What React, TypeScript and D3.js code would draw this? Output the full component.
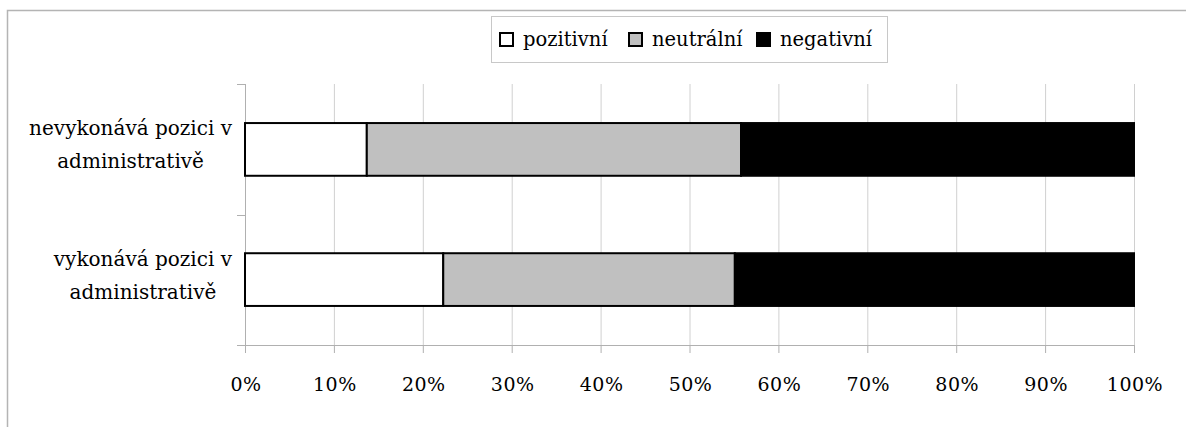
import React, { useEffect, useRef } from "react";
import * as d3 from "d3";

const categories = [
  ["nevykonává pozici v", "administrativě"],
  ["vykonává pozici v", "administrativě"],
];
const seriesNames = ["pozitivní", "neutrální", "negativní"];
const seriesColors = ["#ffffff", "#c0c0c0", "#000000"];
const pozitivni = [13.7, 22.3];
const neutralni = [42.1, 32.8];
const negativni = [44.2, 44.9];
const xTicks = [0, 10, 20, 30, 40, 50, 60, 70, 80, 90, 100];

const FONT = "'DejaVu Serif', 'Liberation Serif', serif";

export default function App() {
  const ref = useRef<SVGSVGElement>(null);
  useEffect(() => {
    const svg = d3.select(ref.current);
    svg.selectAll("*").remove();
    const W = 1186, H = 427;
    const left = 245, right = 1134, top = 84, bottom = 345;

    svg.append("rect").attr("x", 7.5).attr("y", 10.5).attr("width", W + 20).attr("height", H + 20)
      .attr("fill", "#fff").attr("stroke", "#b4b4b4").attr("stroke-width", 1.5);

    const x = d3.scaleLinear().domain([0, 100]).range([left, right]);
    const y = d3.scaleBand().domain(categories.map((_, i) => String(i))).range([top, bottom]).paddingInner(0.595).paddingOuter(0.3);
    const yBand = d3.scaleBand().domain(categories.map((_, i) => String(i))).range([top, bottom]);

    svg.append("g").selectAll("line").data(xTicks.slice(1)).join("line")
      .attr("x1", d => x(d) + 0.5).attr("x2", d => x(d) + 0.5)
      .attr("y1", top).attr("y2", bottom)
      .attr("stroke", "#d0d0d0").attr("stroke-width", 1);

    svg.append("line").attr("x1", left + 0.5).attr("x2", left + 0.5).attr("y1", top).attr("y2", bottom)
      .attr("stroke", "#b0b0b0");
    const yt = [top, ...categories.map((_, i) => (yBand(String(i)) as number) + yBand.bandwidth())];
    svg.append("g").selectAll("line").data(yt).join("line")
      .attr("x1", left - 8).attr("x2", left).attr("y1", d => Math.round(d) + 0.5).attr("y2", d => Math.round(d) + 0.5)
      .attr("stroke", "#b0b0b0");

    svg.append("line").attr("x1", left - 8).attr("x2", right).attr("y1", bottom + 0.5).attr("y2", bottom + 0.5)
      .attr("stroke", "#b0b0b0");
    svg.append("g").selectAll("line").data(xTicks).join("line")
      .attr("x1", d => x(d) + 0.5).attr("x2", d => x(d) + 0.5).attr("y1", bottom).attr("y2", bottom + 8)
      .attr("stroke", "#b0b0b0");
    svg.append("g").selectAll("text").data(xTicks).join("text")
      .attr("x", d => x(d) + 1).attr("y", 391)
      .attr("text-anchor", "middle").style("font-family", FONT).attr("font-size", 19)
      .attr("letter-spacing", 0.5)
      .text(d => d + "%");

    const series = [pozitivni, neutralni, negativni];
    categories.forEach((_, ci) => {
      let acc = 0;
      const by = y(String(ci)) as number;
      series.forEach((s, si) => {
        const v = s[ci];
        svg.append("rect")
          .attr("x", x(acc)).attr("y", by).attr("width", x(acc + v) - x(acc)).attr("height", y.bandwidth())
          .attr("fill", seriesColors[si]).attr("stroke", "#000").attr("stroke-width", 2);
        acc += v;
      });
    });

    categories.forEach((lines, ci) => {
      const cy = (y(String(ci)) as number) + y.bandwidth() / 2;
      const g = svg.append("g");
      const texts = lines.map((l, li) =>
        g.append("text").style("font-family", FONT).attr("font-size", 20)
          .attr("text-anchor", "middle").attr("y", cy - 14 + li * 33).text(l));
      const widths = texts.map(t => (t.node() as SVGTextElement).getComputedTextLength());
      const maxW = Math.max(...widths);
      const cx = 232 - maxW / 2;
      texts.forEach(t => t.attr("x", cx));
    });

    const lg = svg.append("g");
    lg.append("rect").attr("x", 491.5).attr("y", 16.5).attr("width", 396).attr("height", 46)
      .attr("fill", "#fff").attr("stroke", "#c8c8c8");
    const legendX = [500, 629, 757];
    seriesNames.forEach((n, i) => {
      lg.append("rect").attr("x", legendX[i]).attr("y", 33).attr("width", 13).attr("height", 13)
        .attr("fill", seriesColors[i]).attr("stroke", "#000").attr("stroke-width", 2);
      lg.append("text").attr("x", legendX[i] + 23).attr("y", 46).style("font-family", FONT).attr("font-size", 19.5)
        .text(n);
    });
  }, []);
  return (
    <svg ref={ref} width={1186} height={427}
      style={{ position: "absolute", left: 0, top: 0, display: "block", background: "#fff" }} />
  );
}
